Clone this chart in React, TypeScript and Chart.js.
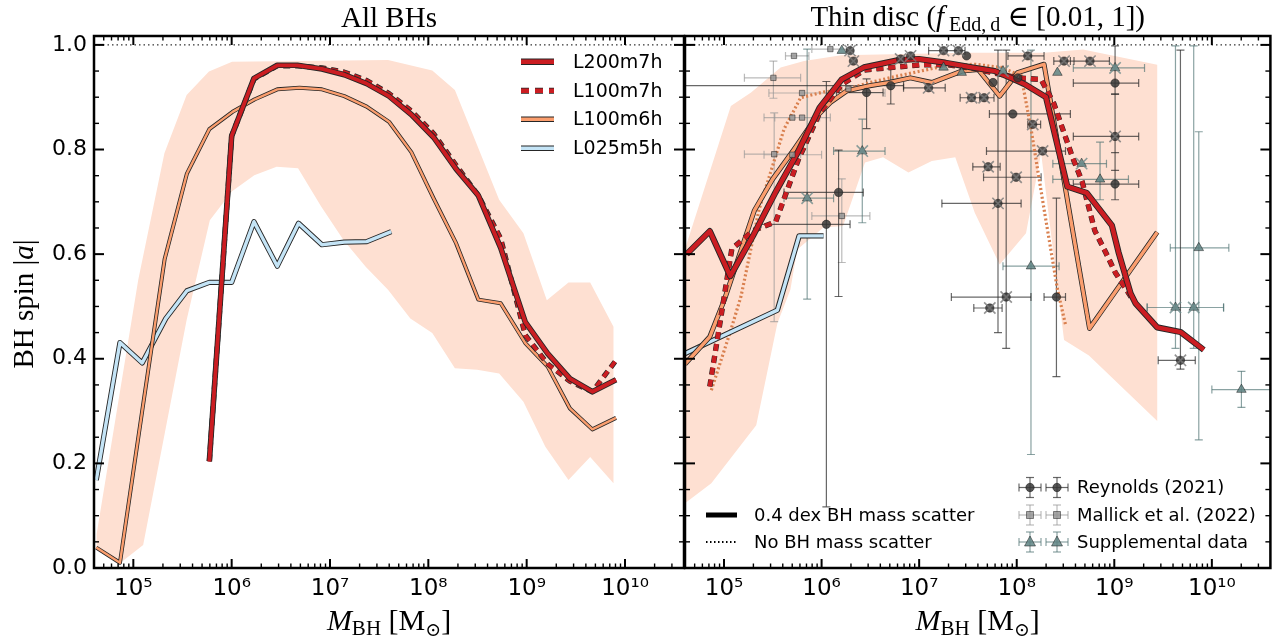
import React, { useEffect, useRef } from "react";
import { Chart, registerables } from "chart.js";

Chart.register(...registerables);

// ---------------- axis limits ----------------
const LOG_M_MIN = 4.6;
const LOG_M_MAX = 10.6;
const SPIN_MIN = 0;
const SPIN_MAX = 1.017;
const MAX_SPIN_LINE = 1.0;

// ---------------- text ----------------
const leftTitle = "All BHs";
const simLabels = ["L200m7h", "L100m7h", "L100m6h", "L025m5h"];
const scatterLabels = ["0.4 dex BH mass scatter", "No BH mass scatter"];
const obsLabels = ["Reynolds (2021)", "Mallick et al. (2022)", "Supplemental data"];

// ---------------- left panel: all BHs (log10 M_BH, |a|) ----------------
const allL200LogM = [5.773, 6.0, 6.227, 6.464, 6.668, 6.918, 7.145, 7.373, 7.6, 7.827, 8.055, 8.282, 8.509, 8.736, 8.986, 9.214, 9.44, 9.668, 9.909];
const allL200Spin = [0.204, 0.826, 0.936, 0.961, 0.961, 0.954, 0.943, 0.926, 0.902, 0.867, 0.823, 0.763, 0.712, 0.612, 0.47, 0.41, 0.362, 0.337, 0.36];
const allL100m7LogM = [5.773, 6.0, 6.227, 6.464, 6.668, 6.918, 7.145, 7.373, 7.6, 7.827, 8.055, 8.282, 8.509, 8.736, 8.986, 9.214, 9.44, 9.668, 9.909];
const allL100m7Spin = [0.204, 0.826, 0.935, 0.96, 0.96, 0.956, 0.948, 0.932, 0.907, 0.874, 0.83, 0.77, 0.712, 0.63, 0.445, 0.39, 0.357, 0.337, 0.397];
const allL100m6LogM = [4.623, 4.864, 5.09, 5.318, 5.545, 5.773, 6.009, 6.236, 6.464, 6.69, 6.918, 7.145, 7.373, 7.6, 7.827, 8.055, 8.282, 8.509, 8.736, 8.986, 9.214, 9.44, 9.668, 9.909];
const allL100m6Spin = [0.039, 0.01, 0.3, 0.59, 0.754, 0.839, 0.872, 0.896, 0.915, 0.918, 0.915, 0.902, 0.882, 0.853, 0.795, 0.706, 0.621, 0.513, 0.506, 0.43, 0.385, 0.305, 0.265, 0.287];
const allL025LogM = [4.623, 4.864, 5.09, 5.33, 5.545, 5.773, 6.0, 6.227, 6.464, 6.68, 6.918, 7.145, 7.373, 7.623];
const allL025Spin = [0.168, 0.431, 0.392, 0.477, 0.53, 0.546, 0.546, 0.662, 0.577, 0.659, 0.618, 0.623, 0.624, 0.643];
const allBandUpperLogM = [4.627, 5.05, 5.316, 5.542, 5.769, 6.004, 7.59, 8.04, 8.27, 8.72, 8.967, 9.205, 9.425, 9.646, 9.883];
const allBandUpperSpin = [0.065, 0.551, 0.793, 0.904, 0.949, 0.968, 0.971, 0.951, 0.914, 0.704, 0.64, 0.512, 0.546, 0.546, 0.461];
const allBandLowerLogM = [4.627, 4.864, 5.1, 5.542, 5.778, 6.004, 6.23, 6.457, 6.675, 6.91, 7.137, 7.363, 7.59, 7.817, 8.04, 8.27, 8.496, 8.72, 8.967, 9.19, 9.425, 9.646, 9.883];
const allBandLowerSpin = [0.04, 0.009, 0.044, 0.474, 0.665, 0.72, 0.751, 0.767, 0.764, 0.691, 0.627, 0.576, 0.532, 0.477, 0.449, 0.382, 0.379, 0.372, 0.318, 0.232, 0.168, 0.212, 0.162];

// ---------------- right panel: thin disc ----------------
const thinL200LogM = [4.617, 4.854, 5.064, 5.297, 5.527, 5.754, 5.98, 6.207, 6.434, 6.79, 6.996, 7.267, 7.537, 7.775, 7.94, 8.08, 8.3, 8.519, 8.717, 8.975, 9.043, 9.167, 9.218, 9.44, 9.679, 9.917];
const thinL200Spin = [0.6, 0.644, 0.558, 0.635, 0.718, 0.794, 0.88, 0.934, 0.957, 0.971, 0.973, 0.966, 0.957, 0.95, 0.937, 0.925, 0.9, 0.729, 0.717, 0.655, 0.604, 0.525, 0.506, 0.46, 0.451, 0.417];
const thinL100m7LogM = [4.854, 5.08, 5.3, 5.53, 5.76, 5.98, 6.21, 6.44, 6.79, 7.03, 7.3, 7.55, 7.8, 8.01, 8.25, 8.38, 8.57, 8.67, 8.8, 8.91, 9.01, 9.2];
const thinL100m7Spin = [0.347, 0.61, 0.645, 0.662, 0.78, 0.87, 0.925, 0.952, 0.958, 0.962, 0.962, 0.955, 0.945, 0.937, 0.934, 0.888, 0.786, 0.739, 0.645, 0.604, 0.565, 0.51];
const thinL100m6LogM = [4.6, 4.854, 5.006, 5.31, 5.497, 5.717, 5.953, 6.09, 6.258, 6.495, 6.69, 6.91, 7.13, 7.437, 7.605, 7.825, 8.01, 8.28, 8.746, 9.44];
const thinL100m6Spin = [0.39, 0.442, 0.514, 0.683, 0.743, 0.8, 0.864, 0.89, 0.912, 0.922, 0.928, 0.937, 0.928, 0.95, 0.953, 0.902, 0.947, 0.963, 0.458, 0.642];
const thinL025LogM = [4.6, 5.547, 5.77, 6.02];
const thinL025Spin = [0.41, 0.493, 0.635, 0.635];
const thinNoScatterLogM = [4.87, 5.07, 5.175, 5.36, 5.615, 5.785, 6.02, 6.255, 6.495, 6.79, 7.267, 7.57, 7.84, 8.045, 8.147, 8.28, 8.417, 8.5];
const thinNoScatterSpin = [0.34, 0.455, 0.52, 0.686, 0.839, 0.899, 0.91, 0.915, 0.928, 0.941, 0.96, 0.963, 0.957, 0.941, 0.839, 0.686, 0.533, 0.465];
const thinBandUpperLogM = [4.6, 5.07, 5.277, 5.58, 5.82, 6.2, 7.5, 8.28, 8.68, 9.44];
const thinBandUpperSpin = [0.61, 0.883, 0.909, 0.957, 0.969, 0.98, 0.985, 0.985, 0.991, 0.962];
const thinBandLowerLogM = [4.6, 4.87, 5.33, 5.547, 5.68, 5.75, 6.02, 6.22, 6.445, 6.63, 6.89, 7.13, 7.37, 7.57, 7.825, 8.095, 8.25, 8.485, 8.74, 9.44];
const thinBandLowerSpin = [0.124, 0.162, 0.273, 0.468, 0.532, 0.609, 0.651, 0.654, 0.775, 0.785, 0.756, 0.778, 0.785, 0.679, 0.58, 0.64, 0.793, 0.436, 0.406, 0.281];

// ---------------- observations (log10 M, spin, error bounds) ----------------
const reyLogM = [6.174, 6.049, 6.461, 7.097, 6.709, 6.81, 6.912, 7.25, 7.402, 7.486, 8.113, 8.485, 6.292, 6.326, 7.537, 7.666, 7.757, 8.011, 8.164, 8.265, 7.707, 7.994, 7.808, 7.892, 7.724, 8.407, 7.96, 8.751, 9.008, 9.008, 9.008, 9.678];
const reySpin = [0.718, 0.657, 0.909, 0.918, 0.922, 0.973, 0.979, 0.989, 0.989, 0.979, 0.979, 0.969, 0.989, 0.969, 0.899, 0.899, 0.928, 0.937, 0.848, 0.797, 0.767, 0.747, 0.697, 0.518, 0.497, 0.518, 0.868, 0.969, 0.927, 0.825, 0.734, 0.397];
const reyLogMLo = [5.615, 5.379, 6.153, 6.84, 3.9, null, null, 7.097, null, null, 7.91, 8.38, null, null, 7.42, 7.565, null, null, 8.113, 7.69, 7.55, 7.66, 7.233, 7.33, 7.56, 8.28, 7.72, 8.55, 8.58, 8.58, 8.58, 9.45];
const reyLogMHi = [6.427, 6.292, 6.63, 7.267, 6.84, null, null, 7.47, null, null, 8.28, 8.587, null, null, 7.62, 7.767, null, null, 8.245, 8.5, 7.83, 8.25, 8.045, 8.146, 7.85, 8.5, 8.55, 8.95, 9.25, 9.25, 9.25, 9.83];
const reySpinLo = [0.519, 0.117, 0.84, null, 0.887, null, null, null, null, null, null, null, null, null, null, null, null, null, null, null, null, null, 0.45, 0.42, null, 0.366, null, null, 0.906, 0.76, 0.704, 0.38];
const reySpinHi = [0.799, 0.93, 0.935, null, 0.954, null, null, null, null, null, null, null, null, null, null, null, null, null, null, null, null, null, 0.99, 0.99, null, 0.707, null, null, 0.998, 0.906, 0.794, 0.99];
const reyCross = [0, 0, 0, 1, 0, 1, 1, 1, 1, 0, 1, 1, 1, 1, 1, 1, 0, 0, 1, 1, 1, 1, 1, 1, 1, 0, 0, 1, 0, 1, 0, 1];

const malLogM = [5.506, 5.514, 5.7, 5.8, 5.8, 6.207, 6.09, 6.275, 5.7, 5.717];
const malSpin = [0.937, 0.791, 0.861, 0.861, 0.908, 0.673, 0.992, 0.916, 0.79, 0.979];
const malLogMLo = [5.209, 5.209, 5.41, 5.52, 5.46, 5.9, 5.9, null, 5.41, 5.63];
const malLogMHi = [5.785, 5.785, 5.98, 6.09, 6.65, 6.495, 6.3, null, 6.0, 5.87];
const malSpinLo = [0.898, 0.471, null, null, null, 0.584, null, null, null, null];
const malSpinHi = [0.969, 0.87, null, null, null, 0.744, null, null, null, null];

const supLogM = [5.852, 6.417, 7.25, 7.436, 7.859, 8.417, 8.146, 9.008, 8.665, 8.854, 9.866, 9.627, 9.814, 10.303, 6.207];
const supSpin = [0.707, 0.797, 0.957, 0.947, 0.95, 0.947, 0.577, 0.956, 0.773, 0.743, 0.612, 0.498, 0.498, 0.341, 0.989];
const supLogMLo = [5.615, 6.123, null, null, null, null, 7.859, 8.58, 8.37, 8.37, 9.574, 9.337, 9.337, 10.0, null];
const supLogMHi = [6.123, 6.65, null, null, null, null, 8.434, 9.31, 8.92, 9.145, 10.174, 10.12, 10.12, 10.7, null];
const supSpinLo = [0.514, 0.66, null, null, null, null, 0.217, null, null, 0.704, 0.245, 0.42, 0.42, 0.307, null];
const supSpinHi = [0.992, 0.858, null, null, null, null, 0.99, null, null, 0.814, 0.834, 0.998, 0.998, 0.376, null];
const supCross = [1, 1, 0, 0, 1, 0, 0, 1, 1, 0, 0, 1, 1, 0, 0];

// ---------------- styles ----------------
const SANS = '"DejaVu Sans", "Noto Sans", sans-serif';
const SERIF = '"Liberation Serif", "DejaVu Serif", serif';
const EDGE = "#262626";
const RED = "#cb1d22";
const ORANGE = "#fb9e6e";
const BLUE = "#c4e4f6";
const SHADE = "#fee0d2";
const NOSCAT = "#d9804f";
const REY = { bar: "rgba(40,40,40,0.7)", fill: "rgba(55,55,55,0.85)", cross: "rgba(120,120,120,0.8)" };
const MAL = { bar: "rgba(150,150,150,0.65)", fill: "rgba(150,150,150,0.85)" };
const SUP = { bar: "rgba(75,112,112,0.65)", fill: "rgba(95,132,132,0.85)", cross: "rgba(110,140,140,0.8)" };

const P = (l: number) => Math.pow(10, l);
const pts = (lm: number[], s: number[]) => lm.map((l, i) => ({ x: P(l), y: s[i] }));
const SUPS: any = { "0": "\u2070", "1": "\u00b9", "2": "\u00b2", "3": "\u00b3", "4": "\u2074", "5": "\u2075", "6": "\u2076", "7": "\u2077", "8": "\u2078", "9": "\u2079" };

function band(uL: number[], uS: number[], lL: number[], lS: number[]) {
  return {
    type: "line",
    data: [...pts(uL, uS), ...pts(lL, lS).reverse()],
    borderWidth: 0,
    pointRadius: 0,
    backgroundColor: SHADE,
    fill: "shape",
    order: 100,
    clip: 0,
  };
}

function edged(lm: number[], s: number[], color: string, width: number, edgeTotal: number, dash: number[], order: number) {
  const data = pts(lm, s);
  const common = { type: "line", data, pointRadius: 0, fill: false, clip: 0, borderDash: dash, borderJoinStyle: "round", borderCapStyle: "butt", tension: 0 };
  return [
    { ...common, borderColor: EDGE, borderWidth: edgeTotal, order: order + 1 },
    { ...common, borderColor: color, borderWidth: width, order },
  ];
}

function plainLine(lm: number[], s: number[], color: string, width: number, dash: number[], order: number) {
  return { type: "line", data: pts(lm, s), borderColor: color, borderWidth: width, borderDash: dash, pointRadius: 0, fill: false, clip: 0, order };
}

function refLine() {
  return {
    type: "line",
    data: [{ x: P(LOG_M_MIN), y: MAX_SPIN_LINE }, { x: P(LOG_M_MAX), y: MAX_SPIN_LINE }],
    borderColor: "#000",
    borderWidth: 1,
    borderDash: [1.5, 3],
    pointRadius: 0,
    fill: false,
    clip: 0,
    order: 95,
  };
}

function obsSets(lm: number[], s: number[], xlo: any[], xhi: any[], ylo: any[], yhi: any[], cross: number[] | null, st: any, markerStyle: string, mRadius: number, order: number) {
  const h: any[] = [], v: any[] = [], hc: any[] = [], vc: any[] = [], mk: any[] = [], cr: any[] = [];
  lm.forEach((l, i) => {
    const y = s[i];
    if (xlo[i] != null) {
      h.push({ x: P(xlo[i]), y }, { x: P(xhi[i]), y }, { x: P(xhi[i]), y: null });
      hc.push({ x: P(xlo[i]), y }, { x: P(xhi[i]), y });
    }
    if (ylo[i] != null) {
      v.push({ x: P(l), y: ylo[i] }, { x: P(l), y: yhi[i] }, { x: P(l), y: null });
      vc.push({ x: P(l), y: ylo[i] }, { x: P(l), y: yhi[i] });
    }
    mk.push({ x: P(l), y });
    if (cross && cross[i]) cr.push({ x: P(l), y });
  });
  const barBase = { type: "line", borderColor: st.bar, borderWidth: 1.2, pointRadius: 0, fill: false, spanGaps: false, clip: 0, order: order + 40 };
  const capBase = { type: "line", showLine: false, pointStyle: "line", pointRadius: 4, pointBorderColor: st.bar, pointBorderWidth: 1.2, clip: 0, order: order + 40 };
  const sets: any[] = [
    { ...barBase, data: h },
    { ...barBase, data: v },
    { ...capBase, data: hc, pointRotation: 90 },
    { ...capBase, data: vc, pointRotation: 0 },
    { type: "line", showLine: false, data: mk, pointStyle: markerStyle, pointRadius: mRadius, pointBackgroundColor: st.fill, pointBorderColor: "rgba(20,20,20,0.6)", pointBorderWidth: 0.8, clip: 0, order: order + 1 },
  ];
  if (cross) sets.push({ type: "line", showLine: false, data: cr, pointStyle: "crossRot", pointRadius: 8, pointBorderColor: st.cross, pointBorderWidth: 1.6, clip: 0, order });
  return sets;
}

// ---------------- drawing helpers ----------------
function seg(ctx: CanvasRenderingContext2D, x1: number, y1: number, x2: number, y2: number) {
  ctx.beginPath();
  ctx.moveTo(x1, y1);
  ctx.lineTo(x2, y2);
  ctx.stroke();
}

function drawFrame(chart: any) {
  const { ctx, chartArea: a, scales } = chart;
  const xs = scales.x, ys = scales.y;
  ctx.save();
  ctx.strokeStyle = "#000";
  for (let e = 4; e <= 10; e++) {
    for (let k = 1; k <= 9; k++) {
      const v = k * Math.pow(10, e);
      if (v < xs.min || v > xs.max) continue;
      const px = xs.getPixelForValue(v);
      const major = k === 1;
      const len = major ? 9 : 4.5;
      ctx.lineWidth = major ? 2 : 1.4;
      seg(ctx, px, a.bottom, px, a.bottom - len);
      seg(ctx, px, a.top, px, a.top + len);
    }
  }
  for (let i = 0; i <= 20; i++) {
    const v = i * 0.05;
    const py = ys.getPixelForValue(v);
    const major = i % 4 === 0;
    const len = major ? 10 : 5;
    ctx.lineWidth = major ? 2 : 1.4;
    seg(ctx, a.left, py, a.left + len, py);
    seg(ctx, a.right, py, a.right - len, py);
  }
  ctx.lineWidth = 2.5;
  ctx.strokeRect(a.left, a.top, a.right - a.left, a.bottom - a.top);
  ctx.restore();
}

type Run = { t: string; font: string; dy?: number };
function runsWidth(ctx: CanvasRenderingContext2D, runs: Run[]) {
  let w = 0;
  for (const r of runs) {
    ctx.font = r.font;
    w += ctx.measureText(r.t).width;
  }
  return w;
}
function drawRuns(ctx: CanvasRenderingContext2D, runs: Run[], cx: number, baseline: number) {
  let x = cx - runsWidth(ctx, runs) / 2;
  ctx.textAlign = "left";
  ctx.textBaseline = "alphabetic";
  for (const r of runs) {
    ctx.font = r.font;
    ctx.fillText(r.t, x, baseline + (r.dy || 0));
    x += ctx.measureText(r.t).width;
  }
}

function xLabelRuns(): Run[] {
  return [
    { t: "M", font: `italic 30px ${SERIF}` },
    { t: "BH", font: `21px ${SERIF}`, dy: 5 },
    { t: " [M", font: `30px ${SERIF}` },
    { t: "\u2299", font: `19px ${SERIF}`, dy: 6 },
    { t: "]", font: `30px ${SERIF}` },
  ];
}

function legendLine(ctx: CanvasRenderingContext2D, x1: number, x2: number, y: number, color: string, w: number, edge: number, dash: number[]) {
  ctx.save();
  ctx.lineCap = "butt";
  ctx.setLineDash(dash);
  if (edge > 0) {
    ctx.strokeStyle = EDGE;
    ctx.lineWidth = edge;
    seg(ctx, x1, y, x2, y);
  }
  ctx.strokeStyle = color;
  ctx.lineWidth = w;
  seg(ctx, x1, y, x2, y);
  ctx.restore();
}

function legendObs(ctx: CanvasRenderingContext2D, x: number, y: number, kind: number) {
  const st = kind === 0 ? REY : kind === 1 ? MAL : SUP;
  ctx.save();
  ctx.strokeStyle = st.bar;
  ctx.lineWidth = 1.2;
  seg(ctx, x - 11, y, x + 11, y);
  seg(ctx, x - 11, y - 4, x - 11, y + 4);
  seg(ctx, x + 11, y - 4, x + 11, y + 4);
  seg(ctx, x, y - 10, x, y + 10);
  seg(ctx, x - 4, y - 10, x + 4, y - 10);
  seg(ctx, x - 4, y + 10, x + 4, y + 10);
  ctx.fillStyle = st.fill;
  ctx.strokeStyle = "rgba(20,20,20,0.6)";
  ctx.lineWidth = 0.8;
  ctx.beginPath();
  if (kind === 0) ctx.arc(x, y, 4.2, 0, Math.PI * 2);
  else if (kind === 1) ctx.rect(x - 3.5, y - 3.5, 7, 7);
  else {
    ctx.moveTo(x, y - 6);
    ctx.lineTo(x + 5.5, y + 4);
    ctx.lineTo(x - 5.5, y + 4);
    ctx.closePath();
  }
  ctx.fill();
  ctx.stroke();
  ctx.restore();
}

function makeDecor(panel: string) {
  return {
    id: "decor_" + panel,
    afterDraw(chart: any) {
      const { ctx, chartArea: a } = chart;
      drawFrame(chart);
      const cx = (a.left + a.right) / 2;
      ctx.save();
      ctx.fillStyle = "#000";
      drawRuns(ctx, xLabelRuns(), cx, 630);
      if (panel === "left") {
        drawRuns(ctx, [{ t: leftTitle, font: `29px ${SERIF}` }], cx, 27);
        ctx.save();
        ctx.translate(33, (a.top + a.bottom) / 2 + 2);
        ctx.rotate(-Math.PI / 2);
        drawRuns(ctx, [
          { t: "BH spin |", font: `29px ${SERIF}` },
          { t: "a", font: `italic 29px ${SERIF}` },
          { t: "|", font: `29px ${SERIF}` },
        ], 0, 0);
        ctx.restore();
        // legend
        const rows = [25.7, 54.7, 83.3, 112.3];
        const hx1 = a.right - 163, hx2 = a.right - 130, tx = a.right - 111;
        legendLine(ctx, hx1, hx2, a.top + rows[0], RED, 4.5, 6.5, []);
        legendLine(ctx, hx1, hx2, a.top + rows[1], RED, 4.5, 6, [8, 6]);
        legendLine(ctx, hx1, hx2, a.top + rows[2], ORANGE, 3.6, 5.6, []);
        legendLine(ctx, hx1, hx2, a.top + rows[3], BLUE, 3.6, 5.6, []);
        ctx.font = `19px ${SANS}`;
        ctx.textAlign = "left";
        ctx.textBaseline = "middle";
        ctx.fillStyle = "#000";
        simLabels.forEach((t, i) => ctx.fillText(t, tx, a.top + rows[i] + 1));
      } else {
        drawRuns(ctx, [
          { t: "Thin disc (", font: `29px ${SERIF}` },
          { t: "f", font: `italic 29px ${SERIF}` },
          { t: " Edd,\u2009d", font: `20px ${SERIF}`, dy: 5 },
          { t: " \u2208 [0.01, 1])", font: `29px ${SERIF}` },
        ], cx, 26);
        // left legend column
        const r1 = a.bottom - 53, r2 = a.bottom - 26;
        legendLine(ctx, a.left + 21, a.left + 52, r1, "#000", 5, 0, []);
        legendLine(ctx, a.left + 21, a.left + 52, r2, "#000", 2, 0, [1.5, 2.5]);
        ctx.font = `18px ${SANS}`;
        ctx.textAlign = "left";
        ctx.textBaseline = "middle";
        ctx.fillStyle = "#000";
        ctx.fillText(scatterLabels[0], a.left + 69, r1 + 1);
        ctx.fillText(scatterLabels[1], a.left + 69, r2 + 1);
        const orows = [a.bottom - 80.5, a.bottom - 53, a.bottom - 26];
        orows.forEach((ry, i) => {
          legendObs(ctx, a.left + 345, ry, i);
          legendObs(ctx, a.left + 372, ry, i);
          ctx.font = `18px ${SANS}`;
          ctx.textAlign = "left";
          ctx.textBaseline = "middle";
          ctx.fillStyle = "#000";
          ctx.fillText(obsLabels[i], a.left + 392, ry + 1);
        });
      }
      ctx.restore();
    },
  };
}

function baseOptions(showY: boolean, padding: any) {
  return {
    animation: false,
    responsive: false,
    maintainAspectRatio: false,
    devicePixelRatio: 1,
    events: [],
    layout: { padding },
    plugins: { legend: { display: false }, tooltip: { enabled: false }, title: { display: false } },
    scales: {
      x: {
        type: "logarithmic",
        min: P(LOG_M_MIN),
        max: P(LOG_M_MAX),
        grid: { display: false, drawTicks: false },
        border: { display: false },
        ticks: {
          autoSkip: false,
          maxRotation: 0,
          minRotation: 0,
          padding: 7,
          color: "#000",
          font: { family: SANS, size: 23 },
          callback: (v: any) => {
            const l = Math.log10(Number(v));
            const r = Math.round(l);
            if (Math.abs(l - r) > 1e-6) return "";
            return "10" + String(r).split("").map((c) => SUPS[c]).join("");
          },
        },
        afterFit: (s: any) => {
          s.height = 50;
        },
      },
      y: {
        type: "linear",
        display: showY,
        min: SPIN_MIN,
        max: SPIN_MAX,
        grid: { display: false, drawTicks: false },
        border: { display: false },
        ticks: {
          stepSize: 0.2,
          includeBounds: false,
          padding: 7,
          color: "#000",
          font: { family: SANS, size: 22 },
          callback: (v: any) => Number(v).toFixed(1),
        },
        afterFit: (s: any) => {
          s.width = showY ? 70 : 0;
        },
      },
    },
  };
}

function leftConfig(): any {
  const datasets: any[] = [
    band(allBandUpperLogM, allBandUpperSpin, allBandLowerLogM, allBandLowerSpin),
    refLine(),
    ...edged(allL025LogM, allL025Spin, BLUE, 3.4, 5.2, [], 40),
    ...edged(allL100m6LogM, allL100m6Spin, ORANGE, 2.4, 4.0, [], 36),
    ...edged(allL100m7LogM, allL100m7Spin, RED, 3.8, 5.2, [7, 5], 32),
    ...edged(allL200LogM, allL200Spin, RED, 3.8, 5.6, [], 28),
  ];
  return {
    type: "line",
    data: { datasets },
    options: baseOptions(true, { left: 24, right: 1280 - 684, top: 36, bottom: 643 - 568 - 50 }),
    plugins: [makeDecor("left")],
  };
}

function rightConfig(): any {
  const datasets: any[] = [
    band(thinBandUpperLogM, thinBandUpperSpin, thinBandLowerLogM, thinBandLowerSpin),
    refLine(),
    ...obsSets(malLogM, malSpin, malLogMLo, malLogMHi, malSpinLo, malSpinHi, null, MAL, "rect", 3.8, 14),
    ...obsSets(supLogM, supSpin, supLogMLo, supLogMHi, supSpinLo, supSpinHi, supCross, SUP, "triangle", 5.5, 12),
    ...obsSets(reyLogM, reySpin, reyLogMLo, reyLogMHi, reySpinLo, reySpinHi, reyCross, REY, "circle", 4.2, 10),
    plainLine(thinNoScatterLogM, thinNoScatterSpin, NOSCAT, 3.2, [2, 2.4], 44),
    ...edged(thinL025LogM, thinL025Spin, BLUE, 3.4, 5.4, [], 42),
    ...edged(thinL100m6LogM, thinL100m6Spin, ORANGE, 3.4, 5.0, [], 38),
    ...edged(thinL100m7LogM, thinL100m7Spin, RED, 4.4, 5.4, [7, 5], 34),
    ...edged(thinL200LogM, thinL200Spin, RED, 4.4, 6.2, [], 30),
  ];
  return {
    type: "line",
    data: { datasets },
    options: baseOptions(false, { left: 685, right: 1280 - 1277, top: 36, bottom: 643 - 568 - 50 }),
    plugins: [makeDecor("right")],
  };
}

export default function App() {
  const leftRef = useRef<HTMLCanvasElement>(null);
  const rightRef = useRef<HTMLCanvasElement>(null);
  useEffect(() => {
    const c1 = new Chart(leftRef.current as HTMLCanvasElement, leftConfig());
    const c2 = new Chart(rightRef.current as HTMLCanvasElement, rightConfig());
    return () => {
      c1.destroy();
      c2.destroy();
    };
  }, []);
  const cs: any = { position: "absolute", left: 0, top: 0, width: 1280, height: 643 };
  return (
    <div style={{ position: "fixed", left: 0, top: 0, width: 1280, height: 643, background: "#fff", overflow: "hidden" }}>
      <canvas ref={leftRef} width={1280} height={643} style={cs} />
      <canvas ref={rightRef} width={1280} height={643} style={cs} />
    </div>
  );
}
